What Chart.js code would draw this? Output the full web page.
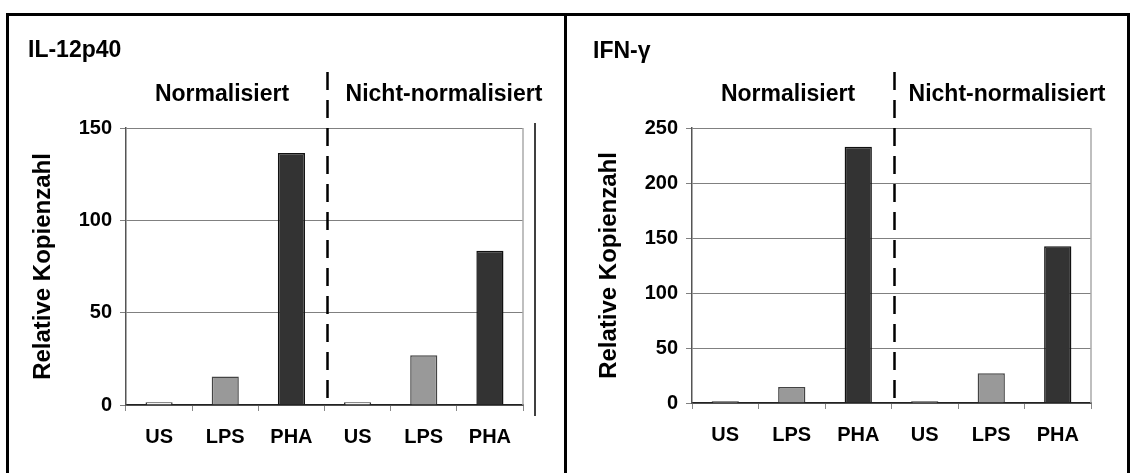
<!DOCTYPE html>
<html>
<head>
<meta charset="utf-8">
<script src="https://cdn.jsdelivr.net/npm/chart.js@4.4.1/dist/chart.umd.min.js"></script>
<style>
  body { margin: 0; background: #fff; font-family: "Liberation Sans", Arial, sans-serif; }
  #page { position: relative; width: 1131px; height: 473px; overflow: hidden; }
  #frame { position: absolute; left: 6px; top: 13px; width: 1118px; height: 480px; border: 3px solid #000; }
  #divider { position: absolute; left: 564px; top: 13px; width: 3px; height: 480px; background: #000; }
  canvas { position: absolute; top: 0; }
  .txt { position: absolute; font-weight: bold; font-size: 23px; line-height: 23px; color: #000; white-space: nowrap; }
  .grp { text-align: center; width: 240px; }
</style>
</head>
<body>
<div id="page">
  <div id="frame"></div>
  <div id="divider"></div>
  <canvas id="chartIL" width="565" height="473" style="left:0"></canvas>
  <canvas id="chartIFN" width="565" height="473" style="left:566px"></canvas>

  <div class="txt" id="titleIL" style="left:28px;top:38px"></div>
  <div class="txt" id="titleIFN" style="left:593px;top:39px"></div>
  <div class="txt grp" id="grpIL1" style="left:102px;top:82px"></div>
  <div class="txt grp" id="grpIL2" style="left:324px;top:82px"></div>
  <div class="txt grp" id="grpIFN1" style="left:668px;top:82px"></div>
  <div class="txt grp" id="grpIFN2" style="left:887px;top:82px"></div>
</div>

<script>
/* ---------- Daten ---------- */

const categories = ["US", "LPS", "PHA", "US", "LPS", "PHA"];
const groups = ["Normalisiert", "Nicht-normalisiert"];
const panelTitles = ["IL-12p40", "IFN-γ"];
const axisTitle = "Relative Kopienzahl";

// Relative Kopienzahl je Stimulation
const il12Values = [1.5, 15.5, 136.5, 1.5, 27, 83.5];
const ifngValues = [1.5, 14.5, 233, 1.5, 27, 142.5];

// y-Achsen
const il12Max = 150;
const ifngMax = 250;
const tickStep = 50;


/* ---------- Texte ---------- */

document.getElementById("titleIL").textContent = panelTitles[0];
document.getElementById("titleIFN").textContent = panelTitles[1];
document.getElementById("grpIL1").textContent = groups[0];
document.getElementById("grpIL2").textContent = groups[1];
document.getElementById("grpIFN1").textContent = groups[0];
document.getElementById("grpIFN2").textContent = groups[1];


/* ---------- Plugin: Trennlinie + Rahmen ---------- */

const separator = {
  id: "separator",
  afterDatasetsDraw(chart, args, opts) {
    const { ctx, chartArea } = chart;
    const x = chart.scales.x;
    const mid = (x.getPixelForTick(2) + x.getPixelForTick(3)) / 2 + 3;

    ctx.save();

    // rechter Rand der Zeichenfläche (hellgrau)
    ctx.strokeStyle = "#aaaaaa";
    ctx.lineWidth = 1.5;
    ctx.beginPath();
    ctx.moveTo(chartArea.right, chartArea.top);
    ctx.lineTo(chartArea.right, chartArea.bottom);
    ctx.stroke();

    // gestrichelte Trennlinie zwischen den Gruppen
    ctx.strokeStyle = "#000";
    ctx.lineWidth = 2.5;
    ctx.setLineDash([18, 10]);
    ctx.beginPath();
    ctx.moveTo(mid, chartArea.top - 56);
    ctx.lineTo(mid, chartArea.bottom + 3);
    ctx.stroke();

    // zusätzliche senkrechte Linie (nur links)
    if (opts.extraLine) {
      ctx.setLineDash([]);
      ctx.lineWidth = 1.5;
      ctx.beginPath();
      ctx.moveTo(chartArea.right + 12, chartArea.top - 5);
      ctx.lineTo(chartArea.right + 12, chartArea.bottom + 11);
      ctx.stroke();
    }
    ctx.restore();
  }
};


/* ---------- Chart ---------- */

const fills = ["#ffffff", "#999999", "#333333", "#ffffff", "#999999", "#333333"];
const borders = ["#333333", "#444444", "#111111", "#333333", "#444444", "#111111"];

function makeChart(id, values, yMax, padRight, padBottom, extraLine) {
  return new Chart(document.getElementById(id), {
    type: "bar",
    data: {
      labels: categories,
      datasets: [{
        data: values,
        backgroundColor: fills,
        borderColor: borders,
        borderWidth: 1.5,
        barPercentage: 0.41,
        categoryPercentage: 1
      }]
    },
    options: {
      responsive: false,
      animation: false,
      layout: { padding: { left: 25, right: padRight, top: 128, bottom: padBottom } },
      plugins: {
        legend: { display: false },
        tooltip: { enabled: false },
        separator: { extraLine }
      },
      scales: {
        x: {
          offset: true,
          grid: { display: true, drawOnChartArea: false, drawTicks: true, tickLength: 6, color: "#888" },
          border: { display: true, color: "#222", width: 1.5 },
          ticks: { color: "#000", padding: 14, font: { family: "Liberation Sans", size: 20, weight: "bold" } },
          afterFit: s => { s.height = 60; }
        },
        y: {
          min: 0,
          max: yMax,
          ticks: { stepSize: tickStep, color: "#000", padding: 8, font: { family: "Liberation Sans", size: 20, weight: "bold" } },
          grid: { color: "#808080", lineWidth: 1, tickLength: 6 },
          border: { color: "#555", width: 1.5 },
          title: {
            display: true,
            text: axisTitle,
            color: "#000",
            font: { family: "Liberation Sans", size: 24, weight: "bold" }
          },
          afterFit: s => { s.width = 101; }
        }
      }
    },
    plugins: [separator]
  });
}

makeChart("chartIL", il12Values, il12Max, 42, 8, true);
makeChart("chartIFN", ifngValues, ifngMax, 40, 10, false);
</script>
</body>
</html>
